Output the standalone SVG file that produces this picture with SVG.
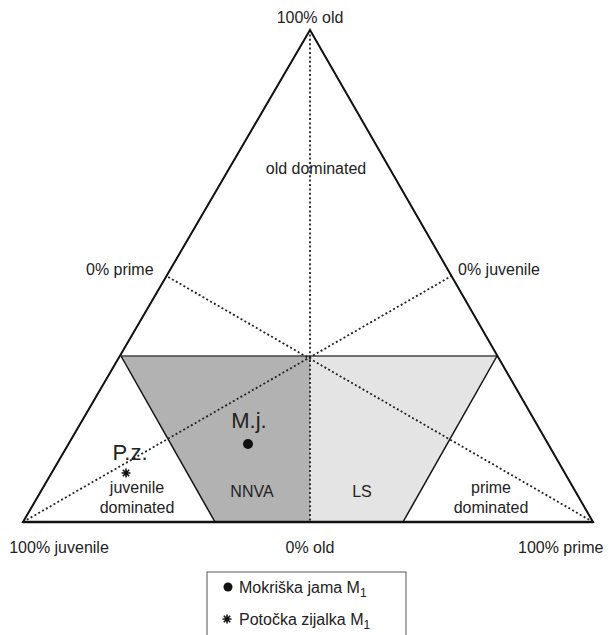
<svg xmlns="http://www.w3.org/2000/svg" width="611" height="635" viewBox="0 0 611 635">
<style>
text{font-family:"Liberation Sans",Arial,sans-serif;fill:#222;}
.lbl{font-size:16px;}
.big{font-size:22px;}
.leg{font-size:16px;}
.dot{stroke:#222;stroke-width:1.8;stroke-dasharray:2 2.4;fill:none;}
.edge{stroke:#111;stroke-width:2;fill:none;stroke-linejoin:miter;}
.star{stroke:#111;stroke-width:1.6;fill:none;}
</style>
<defs>
<path id="ast" class="star" d="M-4.5,0H4.5M0,-4.5V4.5M-3.2,-3.2L3.2,3.2M-3.2,3.2L3.2,-3.2"/>
</defs>
<rect width="611" height="635" fill="#fff"/>
<g id="regions">
<polygon id="nnva" points="121,356 310,356 310,522 215,522" fill="#b2b2b2"/>
<polygon id="ls" points="310,356 497,356 403,522 310,522" fill="#e4e4e4"/>
<line x1="121" y1="356" x2="497" y2="356" stroke="#444" stroke-width="1.6"/>
<line x1="121" y1="356" x2="215" y2="522" stroke="#111" stroke-width="1.5"/>
<line x1="497" y1="356" x2="403" y2="522" stroke="#111" stroke-width="1.5"/>
</g>
<g id="connectors">
<line class="dot" x1="310" y1="30" x2="310" y2="522"/>
<line class="dot" x1="23" y1="522" x2="451.5" y2="276"/>
<line class="dot" x1="593" y1="522" x2="166.5" y2="276"/>
</g>
<g id="triangle">
<polygon class="edge" points="310,30 593,522 23,522"/>
<line x1="23" y1="522" x2="593" y2="522" stroke="#111" stroke-width="2.6"/>
</g>
<g id="labels">
<text class="lbl" x="310" y="23" text-anchor="middle">100% old</text>
<text class="lbl" x="316" y="174" text-anchor="middle">old dominated</text>
<text class="lbl" x="86" y="275">0% prime</text>
<text class="lbl" x="458" y="275">0% juvenile</text>
<text class="lbl" x="59" y="553" text-anchor="middle">100% juvenile</text>
<text class="lbl" x="310" y="553" text-anchor="middle">0% old</text>
<text class="lbl" x="518" y="553">100% prime</text>
<text class="lbl" x="252" y="497" text-anchor="middle">NNVA</text>
<text class="lbl" x="362" y="497" text-anchor="middle">LS</text>
<text class="lbl" x="137" y="493" text-anchor="middle">juvenile</text>
<text class="lbl" x="137" y="513" text-anchor="middle">dominated</text>
<text class="lbl" x="491" y="493" text-anchor="middle">prime</text>
<text class="lbl" x="491" y="513" text-anchor="middle">dominated</text>
</g>
<g id="point-mj">
<text class="big" x="249" y="428" text-anchor="middle">M.j.</text>
<circle cx="248" cy="444" r="5" fill="#111"/>
</g>
<g id="point-pz">
<text class="big" x="130" y="460" text-anchor="middle">P.z.</text>
<use href="#ast" x="126" y="473"/>
</g>
<g id="legend">
<rect x="207" y="572" width="199" height="80" fill="none" stroke="#555" stroke-width="1"/>
<circle cx="228" cy="587" r="4.5" fill="#111"/>
<text class="leg" x="239" y="593">Mokriška jama M<tspan font-size="12" dy="4">1</tspan></text>
<use href="#ast" x="227" y="619"/>
<text class="leg" x="239" y="625">Potočka zijalka M<tspan font-size="12" dy="4">1</tspan></text>
</g>
</svg>
